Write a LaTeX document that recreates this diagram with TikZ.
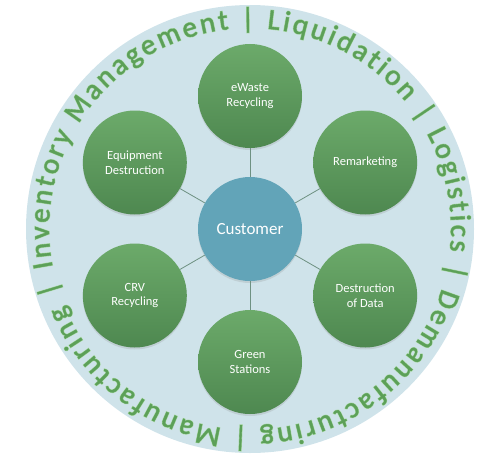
\documentclass[tikz,border=0pt]{standalone}
\usepackage{fontspec}
\setmainfont{Carlito}
\newfontfamily\glowfam{Carlito}[FakeBold=5]
\newfontfamily\letterfam{Carlito}[FakeBold=1.2]
\usetikzlibrary{decorations.text,shadows}
\definecolor{ringfill}{RGB}{207,227,234}
\definecolor{ringtext}{RGB}{92,160,88}
\definecolor{ringglow}{RGB}{172,218,170}
\definecolor{leaftop}{RGB}{108,170,106}
\definecolor{leafbot}{RGB}{78,136,80}
\definecolor{hubfill}{RGB}{98,164,184}
\definecolor{spoke}{RGB}{110,145,130}
\newcommand{\ringfont}{\fontsize{29}{29}\selectfont}
\newcommand{\rimwords}{Inventory Management | Liquidation | Logistics | Demanufacturing | Manufacturing |}
\tikzset{
  leaf/.style={circle, minimum size=104, inner sep=0pt, top color=leaftop, bottom color=leafbot,
    text=white, font=\fontsize{12.5}{14.5}\selectfont, align=center,
    drop shadow={opacity=0.2, shadow xshift=0pt, shadow yshift=-2pt}},
  hub/.style={circle, minimum size=104, inner sep=0pt, fill=hubfill, text=white, font=\fontsize{17}{18}\selectfont,
    drop shadow={opacity=0.2, shadow xshift=0pt, shadow yshift=-2pt}},
  spokeline/.style={draw=spoke, line width=0.8pt},
  rim/.style={decorate, decoration={text along path, text format delimiters={[}{]},
    text={[#1\ringfont]\rimwords}, text align=fit to path}}
}

\begin{document}
\begin{tikzpicture}[x=1pt,y=1pt]
\useasboundingbox (0,0) rectangle (500,459);
\fill[ringfill] (250,230) circle (224);
% words round the rim, glow first and then the letters
\path[rim=\glowfam, decoration={text color=ringglow}]
  (250,230) ++(191:201) arc[start angle=191, end angle=-165, radius=201];
\path[rim=\letterfam, decoration={text color=ringtext}]
  (250,230) ++(191:201) arc[start angle=191, end angle=-165, radius=201];
\node[hub] (customer) at (250,230) {Customer};
\foreach \ang/\name/\txt in {90/ewaste/{eWaste\\Recycling}, 30/remarket/Remarketing,
    -30/datadest/{Destruction\\of Data}, -90/greenst/{Green\\Stations},
    -150/crv/{CRV\\Recycling}, 150/equipdest/{Equipment\\Destruction}}{
  \node[leaf] (\name) at ([shift={(\ang:133)}]customer.center) {\txt};
  \draw[spokeline] (customer) -- (\name);
}
\end{tikzpicture}
\end{document}
